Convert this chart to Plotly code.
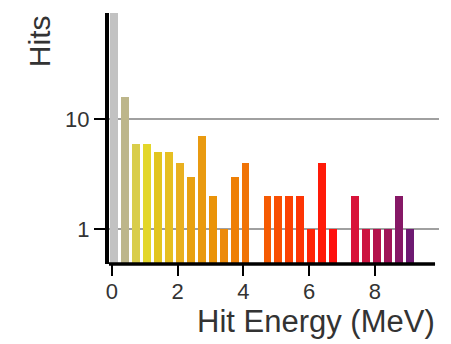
import plotly.graph_objects as go

# Energy histogram: 1/3 MeV bins, hit counts per bin
bin_width = 1.0 / 3.0
first_center = 0.068
hits = [120, 16, 6, 6, 5, 5, 4, 3, 7, 2, 1, 3, 4, 0,
        2, 2, 2, 2, 1, 4, 1, 0, 2, 1, 1, 1, 2, 1]
bar_colors = [
    "#c2c2c2", "#bdb68a", "#d9cd4a", "#e3d62a", "#e2c51f", "#e6bf22",
    "#e9b020", "#e8a112", "#e99a10", "#ea9308", "#ec8a0a", "#ee7f05",
    "#f07306", "#f07306", "#f55a02", "#f84f03", "#fb4103", "#fd3505",
    "#ff2506", "#ff1a08", "#fe100c", "#fe100c", "#d8133a", "#cc1440",
    "#b4124c", "#a01458", "#861866", "#6e1a72",
]
energies = [first_center + i * bin_width for i in range(len(hits))]

x_ticks = [0, 2, 4, 6, 8]
y_ticks = [1, 10]
y_tick_text = ["1", "10"]

font_family = "Liberation Sans, Arial, Helvetica, sans-serif"

fig = go.Figure(
    go.Bar(
        x=energies,
        y=hits,
        width=0.24,
        marker=dict(color=bar_colors, line=dict(width=0)),
    )
)

fig.update_layout(
    width=451,
    height=344,
    margin=dict(l=109, r=12, t=13, b=80),
    paper_bgcolor="white",
    plot_bgcolor="white",
    showlegend=False,
    bargap=0,
    font=dict(family=font_family, color="#333333"),
    xaxis=dict(
        range=[-0.085, 9.953],
        tickvals=x_ticks,
        ticks="outside",
        ticklen=11,
        tickwidth=2,
        tickcolor="black",
        tickfont=dict(size=22, color="#333333"),
        ticklabelstandoff=-3,
        showgrid=False,
        zeroline=False,
        showline=False,
    ),
    yaxis=dict(
        type="log",
        range=[-0.315, 1.965],
        tickvals=y_ticks,
        ticktext=y_tick_text,
        ticks="outside",
        ticklen=11,
        tickwidth=2,
        tickcolor="black",
        tickfont=dict(size=22, color="#333333"),
        showgrid=True,
        gridcolor="#a0a0a0",
        gridwidth=2,
        zeroline=False,
        showline=True,
        linecolor="black",
        linewidth=4,
    ),
    shapes=[
        # horizontal axis line, slightly shorter than the grid
        dict(type="line", xref="paper", yref="paper",
             x0=0, x1=0.988, y0=0, y1=0,
             line=dict(color="black", width=3.5)),
    ],
    annotations=[
        dict(text="Hit Energy (MeV)", xref="paper", yref="paper",
             x=0.994, y=-0.228, xanchor="right", yanchor="middle",
             showarrow=False, font=dict(size=31, color="#333333")),
        dict(text="Hits", xref="paper", yref="paper",
             x=-0.212, y=0.888, xanchor="center", yanchor="middle",
             textangle=-90, showarrow=False,
             font=dict(size=30, color="#333333")),
    ],
)

fig.write_html("out.html")
